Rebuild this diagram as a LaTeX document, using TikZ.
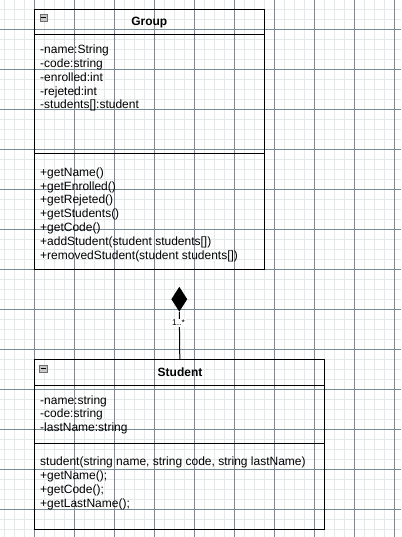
\documentclass[tikz,border=0pt]{standalone}
\usepackage{fontspec}
\setmainfont{Liberation Sans}
\usetikzlibrary{shapes.geometric}
\definecolor{gridminor}{RGB}{227,232,233}
\definecolor{gridmajor}{RGB}{122,139,147}
\definecolor{iconfill}{RGB}{200,200,200}
\definecolor{iconline}{RGB}{110,110,110}
\begin{document}
\begin{tikzpicture}[x=1pt,y=-1pt,
  minorline/.style={draw=gridminor,line width=1pt},
  majorline/.style={draw=gridmajor,line width=1pt},
  umlbox/.style={draw=black,line width=1pt,rectangle,inner sep=0pt,anchor=north west},
  sepline/.style={draw=black,line width=1pt},
  row/.style={anchor=base west,inner sep=0pt,font=\fontsize{12}{14}\selectfont},
  titletext/.style={font=\fontsize{12}{14}\selectfont\bfseries,inner sep=0pt},
  iconbox/.style={draw=iconline,fill=iconfill,minimum size=7.5pt,inner sep=0pt,line width=0.7pt,anchor=north west},
  minusline/.style={draw=black,line width=1pt},
  compo/.style={diamond,fill=black,minimum width=16pt,minimum height=25pt,inner sep=0pt},
  multlabel/.style={fill=white,inner sep=1pt,font=\fontsize{8.5}{10}\selectfont}]
\useasboundingbox[fill=white] (0,0) rectangle (401,537);
% grid
\foreach \k in {0,...,39} \draw[minorline] ({4.5+10*\k},0) -- ({4.5+10*\k},537);
\foreach \k in {-1,...,52} \draw[minorline] (0,{9.3+10*\k}) -- (401,{9.3+10*\k});
\foreach \k in {0,...,9} \draw[majorline] ({34.5+40*\k},0) -- ({34.5+40*\k},537);
\foreach \k in {0,...,12} \draw[majorline] (0,{29.3+40*\k}) -- (401,{29.3+40*\k});
% Group class
\node[umlbox,minimum width=230pt,minimum height=259.7pt] (group) at (34.3,9.3) {};
\draw[sepline] ([yshift=-25.7pt]group.north west) -- ([yshift=-25.7pt]group.north east);
\draw[sepline] ([yshift=-144pt]group.north west) -- ([yshift=-144pt]group.north east);
\node[titletext] (gtitle) at (149.3,22.4) {Group};
\node[iconbox] (gicon) at (39.5,13.6) {};
\draw[minusline] ([xshift=1.6pt]gicon.west) -- ([xshift=-1.6pt]gicon.east);
\foreach \t [count=\i from 0] in {{-name:String},{-code:string},{-enrolled:int},{-rejeted:int},{-students[]:student}}
  \node[row] (ga\i) at (40,{53.6+13.85*\i}) {\t};
\foreach \t [count=\i from 0] in {{+getName()},{+getEnrolled()},{+getRejeted()},{+getStudents()},{+getCode()},{+addStudent(student students[])},{+removedStudent(student students[])}}
  \node[row] (gm\i) at (40,{176.4+13.8*\i}) {\t};
% Student class
\node[umlbox,minimum width=290pt,minimum height=169.7pt] (student) at (34.3,359.3) {};
\draw[sepline] ([yshift=-25.7pt]student.north west) -- ([yshift=-25.7pt]student.north east);
\draw[sepline] ([yshift=-84pt]student.north west) -- ([yshift=-84pt]student.north east);
\node[titletext] (stitle) at (180,372.4) {Student};
\node[iconbox] (sicon) at (39.3,364.8) {};
\draw[minusline] ([xshift=1.6pt]sicon.west) -- ([xshift=-1.6pt]sicon.east);
\foreach \t [count=\i from 0] in {{-name:string},{-code:string},{-lastName:string}}
  \node[row] (sa\i) at (40,{404+13.8*\i}) {\t};
\foreach \t [count=\i from 0] in {{student(string name, string code, string lastName)},{+getName();},{+getCode();},{+getLastName();}}
  \node[row] (sm\i) at (40,{465.7+13.8*\i}) {\t};
% composition
\node[compo] (dia) at (179.3,299.2) {};
\draw[line width=1pt] (student.north) -- (dia.south);
\node[multlabel] (mult) at (178.5,322.7) {1..*};
\end{tikzpicture}
\end{document}
